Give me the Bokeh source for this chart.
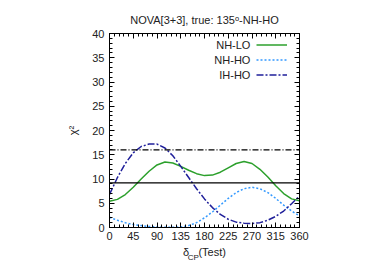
from bokeh.plotting import figure
from bokeh.models import (Label, Span, LinearAxis, FixedTicker, Legend, LegendItem,
                          Range1d, Title)
from bokeh.embed import file_html
from bokeh.resources import INLINE

# ---- data ----
delta_cp = [0, 15, 30, 45, 60, 75, 90, 105, 120, 135, 150, 165, 180,
            195, 210, 225, 240, 255, 270, 285, 300, 315, 330, 345, 360]
nh_lo = [5.4, 5.8, 6.8, 8.3, 10.0, 11.6, 12.9, 13.5, 13.3, 12.6, 11.8, 11.1, 10.7,
         10.8, 11.4, 12.3, 13.2, 13.6, 13.2, 12.0, 10.4, 8.6, 7.0, 5.9, 5.5]
nh_ho = [2.1, 1.5, 1.0, 0.6, 0.4, 0.2, 0.1, 0.05, 0.05, 0.1, 0.4, 1.0, 2.0,
         3.2, 4.6, 6.0, 7.2, 8.0, 8.3, 8.0, 7.2, 6.0, 4.6, 3.4, 2.4]
ih_ho = [6.8, 10.3, 13.2, 15.4, 16.7, 17.2, 17.2, 16.4, 14.8, 12.6, 10.3, 8.0, 5.9,
         4.1, 2.7, 1.7, 1.1, 0.9, 0.8, 1.0, 1.5, 2.3, 3.4, 4.9, 6.5]
cl_lines = [9.2, 16.0]
x_ticks = [0, 45, 90, 135, 180, 225, 270, 315, 360]
y_ticks = [0, 5, 10, 15, 20, 25, 30, 35, 40]
series_names = ["NH-LO", "NH-HO", "IH-HO"]
title_text = "NOVA[3+3], true: 135\u1d52-NH-HO"
NB = "\u00a0"
xlabel_main = "\u03b4" + NB * 3 + "(Test)"
xlabel_sub = "CP" + NB * 10

FONT = "Liberation Sans"
FS = "11px"
TXT = "#222222"

p = figure(width=374, height=265, output_backend="svg", toolbar_location=None,
           x_range=Range1d(0, 360), y_range=Range1d(0, 40),
           min_border_left=109, min_border_right=75, min_border_top=33,
           min_border_bottom=38)
p.title = Title(text=title_text, align="center", text_font=FONT, text_font_size=FS,
                text_font_style="normal", text_color=TXT, offset=0, standoff=15)
p.outline_line_color = "black"
p.outline_line_width = 1
p.grid.visible = False
p.background_fill_color = "white"

minor_x = [v for v in range(0, 361, 9)]
minor_y = [v for v in range(0, 41)]

def style_axis(ax, labels=True):
    ax.major_tick_in = 5
    ax.major_tick_out = 0
    ax.minor_tick_in = 3
    ax.minor_tick_out = 0
    ax.axis_line_color = "black"
    ax.major_tick_line_color = "black"
    ax.minor_tick_line_color = "black"
    ax.major_label_text_font = FONT
    ax.major_label_text_font_size = FS
    ax.major_label_text_color = TXT
    ax.axis_label_text_font = FONT
    ax.axis_label_text_font_style = "normal"
    ax.axis_label_text_font_size = FS
    ax.axis_label_text_color = TXT
    if not labels:
        ax.major_label_text_font_size = "0px"
        ax.major_label_text_alpha = 0
        ax.major_label_standoff = 0

p.xaxis.ticker = FixedTicker(ticks=x_ticks, minor_ticks=minor_x)
p.yaxis.ticker = FixedTicker(ticks=y_ticks, minor_ticks=minor_y)
style_axis(p.xaxis[0])
style_axis(p.yaxis[0])
p.xaxis.major_label_standoff = 4
p.yaxis.major_label_standoff = 5
p.yaxis.axis_label = "\u03c7\u00b2"
p.yaxis.axis_label_standoff = 10
p.xaxis.axis_label = xlabel_main
p.xaxis.axis_label_standoff = 3

# subscript "CP" of the x label, drawn as the label of an extra (invisible) axis
sub_ax = LinearAxis(ticker=FixedTicker(ticks=[]), axis_line_alpha=0,
                    major_tick_line_alpha=0, minor_tick_line_alpha=0,
                    major_label_text_font_size="0px", major_label_standoff=0,
                    axis_label=xlabel_sub, axis_label_text_font=FONT,
                    axis_label_text_font_size="8px", axis_label_text_font_style="normal",
                    axis_label_text_color=TXT, axis_label_standoff=-8)
p.add_layout(sub_ax, "below")

top = LinearAxis(ticker=FixedTicker(ticks=x_ticks, minor_ticks=minor_x))
right = LinearAxis(ticker=FixedTicker(ticks=y_ticks, minor_ticks=minor_y))
style_axis(top, labels=False)
style_axis(right, labels=False)
p.add_layout(top, "above")
p.add_layout(right, "right")

# reference lines
p.add_layout(Span(location=cl_lines[0], dimension="width", line_color="black", line_width=1.2))
p.add_layout(Span(location=cl_lines[1], dimension="width", line_color="black", line_width=1.2,
                  line_dash="6 2 1 2"))

r1 = p.line(delta_cp, nh_lo, line_color="#2ca02c", line_width=1.5)
r2 = p.line(delta_cp, nh_ho, line_color="#3399ff", line_width=1.5, line_dash="2 2")
r3 = p.line(delta_cp, ih_ho, line_color="#1f1f9a", line_width=1.5, line_dash="7 2 2 2")

legend = Legend(items=[LegendItem(label=" ", renderers=[r]) for r in (r1, r2, r3)],
                location=(147, 145), glyph_width=31, glyph_height=15, label_height=15,
                label_width=1, label_standoff=0, padding=0, margin=0, spacing=0,
                border_line_alpha=0, background_fill_alpha=0,
                label_text_font_size="1px")
p.add_layout(legend, "center")

for name, yv in zip(series_names, [37.7, 34.5, 31.4]):
    p.add_layout(Label(x=267, y=yv, text=name, text_align="right", text_baseline="middle",
                       text_font=FONT, text_font_size=FS, text_color=TXT))

open("out.html", "w").write(file_html(p, INLINE))
